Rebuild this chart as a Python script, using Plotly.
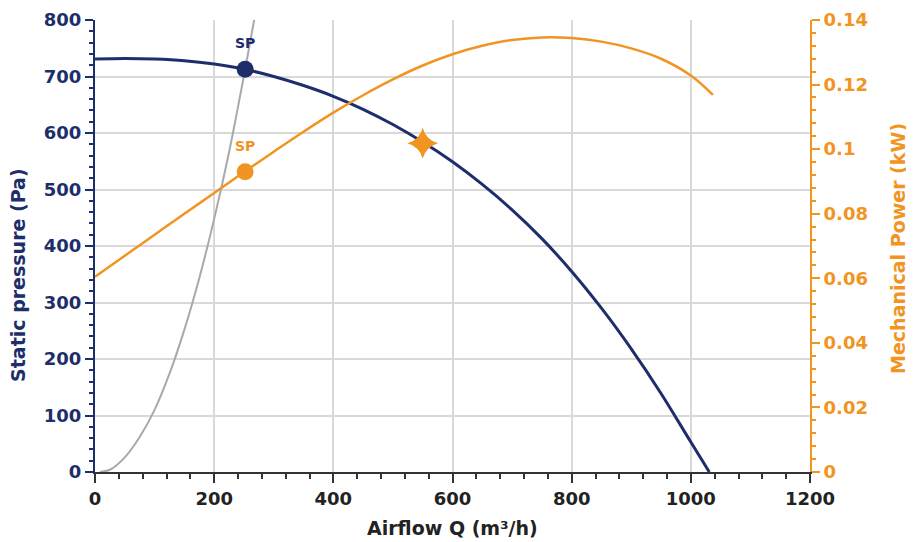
import plotly.graph_objects as go

# Fan curve: static pressure (Pa) vs airflow (m3/h)
airflow_fan = [0, 50, 100, 150, 200, 250, 300, 350, 400, 450, 500, 550, 600, 650, 700, 750, 800, 850, 900, 950, 1000, 1031]
static_pressure = [731, 732, 731, 728, 722, 713, 700, 684, 665, 642, 615, 584, 549, 509, 464, 413, 355, 290, 218, 139, 53, 0]

# Mechanical power (kW) vs airflow
airflow_power = [0, 50, 100, 150, 200, 250, 300, 350, 400, 450, 500, 550, 600, 650, 700, 750, 800, 850, 900, 950, 1000, 1037]
mech_power = [0.0605, 0.0670, 0.0735, 0.0800, 0.0864, 0.0929, 0.0992, 0.1054, 0.1113, 0.1167, 0.1216, 0.1259,
              0.1294, 0.1320, 0.1338, 0.1346, 0.1344, 0.1333, 0.1312, 0.1280, 0.1228, 0.1168]

# System curve
airflow_system = [8, 25, 50, 75, 100, 125, 150, 175, 200, 225, 252, 268]
system_pressure = [0, 4, 26, 62, 110, 174, 252, 343, 448, 566, 713, 805]

# Operating points
sp_airflow = [252]
sp_pressure = [713]
sp_power = [0.093]
star_airflow = [550]
star_pressure = [582]
sp_label = "SP"

x_ticks = [0, 200, 400, 600, 800, 1000, 1200]
y_ticks = [0, 100, 200, 300, 400, 500, 600, 700, 800]
y2_ticks = [0, 0.02, 0.04, 0.06, 0.08, 0.1, 0.12, 0.14]
y2_tick_text = ["0", "0.02", "0.04", "0.06", "0.08", "0.1", "0.12", "0.14"]

NAVY = "#1d2e6b"
ORANGE = "#f29422"
GRAY = "#a9a9a9"
FONT = "DejaVu Sans"

fig = go.Figure()

fig.add_trace(go.Scatter(x=airflow_system, y=system_pressure, mode="lines",
                         line=dict(color=GRAY, width=2, shape="spline"),
                         showlegend=False, hoverinfo="skip"))
fig.add_trace(go.Scatter(x=airflow_power, y=mech_power, mode="lines", yaxis="y2",
                         line=dict(color=ORANGE, width=2.5, shape="spline"),
                         showlegend=False))
fig.add_trace(go.Scatter(x=airflow_fan, y=static_pressure, mode="lines",
                         line=dict(color=NAVY, width=3, shape="spline"),
                         showlegend=False))
fig.add_trace(go.Scatter(x=sp_airflow, y=sp_power, mode="markers", yaxis="y2",
                         marker=dict(color=ORANGE, size=17), showlegend=False))
fig.add_trace(go.Scatter(x=sp_airflow, y=sp_pressure, mode="markers",
                         marker=dict(color=NAVY, size=17), showlegend=False))
fig.add_trace(go.Scatter(x=star_airflow, y=star_pressure, mode="markers",
                         marker=dict(color=ORANGE, size=22, symbol="star-diamond"),
                         showlegend=False))

fig.update_layout(
    width=906, height=534,
    margin=dict(l=87, r=104, t=12, b=70, autoexpand=False),
    paper_bgcolor="white", plot_bgcolor="white",
    font=dict(family=FONT),
    xaxis=dict(range=[0, 1200], tickvals=x_ticks, showgrid=True, gridcolor="#d9d9d9", gridwidth=1.5,
               automargin=False,
               zeroline=False, showline=True, linecolor="#333333", linewidth=2,
               ticks="outside", ticklen=9, tickwidth=1.5, tickcolor="#333333",
               tickfont=dict(family=FONT, size=18, color="#222222", weight="bold"),
               minor=dict(dtick=40, ticks="outside", ticklen=5, tickwidth=1.5, tickcolor="#333333", showgrid=False)),
    yaxis=dict(range=[0, 800], tickvals=y_ticks, showgrid=True, gridcolor="#d9d9d9", gridwidth=1.5,
               automargin=False,
               zeroline=False, showline=True, linecolor=NAVY, linewidth=2,
               ticks="outside", ticklen=8, tickwidth=1.5, tickcolor=NAVY,
               tickfont=dict(family=FONT, size=18, color=NAVY, weight="bold"),
               minor=dict(dtick=20, ticks="outside", ticklen=4, tickwidth=1.5, tickcolor=NAVY, showgrid=False)),
    yaxis2=dict(range=[0, 0.14], tickvals=y2_ticks, ticktext=y2_tick_text, overlaying="y", side="right",
                automargin=False,
                showgrid=False, zeroline=False, showline=True, linecolor=ORANGE, linewidth=2,
                ticks="outside", ticklen=8, tickwidth=1.5, tickcolor=ORANGE,
                tickfont=dict(family=FONT, size=18, color=ORANGE, weight="bold"),
                minor=dict(dtick=0.004, ticks="outside", ticklen=4, tickwidth=1.5, tickcolor=ORANGE, showgrid=False)),
    annotations=[
        dict(text=sp_label, x=sp_airflow[0], y=sp_pressure[0], xref="x", yref="y", yshift=26,
             showarrow=False, xanchor="center", yanchor="middle",
             font=dict(family=FONT, size=14, color=NAVY, weight="bold")),
        dict(text=sp_label, x=sp_airflow[0], y=sp_power[0], xref="x", yref="y2", yshift=26,
             showarrow=False, xanchor="center", yanchor="middle",
             font=dict(family=FONT, size=14, color=ORANGE, weight="bold")),
        dict(text="Static pressure (Pa)", xref="paper", yref="paper", x=-0.1077, y=0.436,
             textangle=-90, showarrow=False, xanchor="center", yanchor="middle",
             font=dict(family=FONT, size=19, color=NAVY, weight="bold")),
        dict(text="Mechanical Power (kW)", xref="paper", yref="paper", x=1.123, y=0.4956,
             textangle=-90, showarrow=False, xanchor="center", yanchor="middle",
             font=dict(family=FONT, size=19, color=ORANGE, weight="bold")),
        dict(text="Airflow Q (m³/h)", xref="paper", yref="paper", x=0.5, y=-0.124,
             showarrow=False, xanchor="center", yanchor="middle",
             font=dict(family=FONT, size=19, color="#222222", weight="bold")),
    ],
)

fig.write_html("out.html")
